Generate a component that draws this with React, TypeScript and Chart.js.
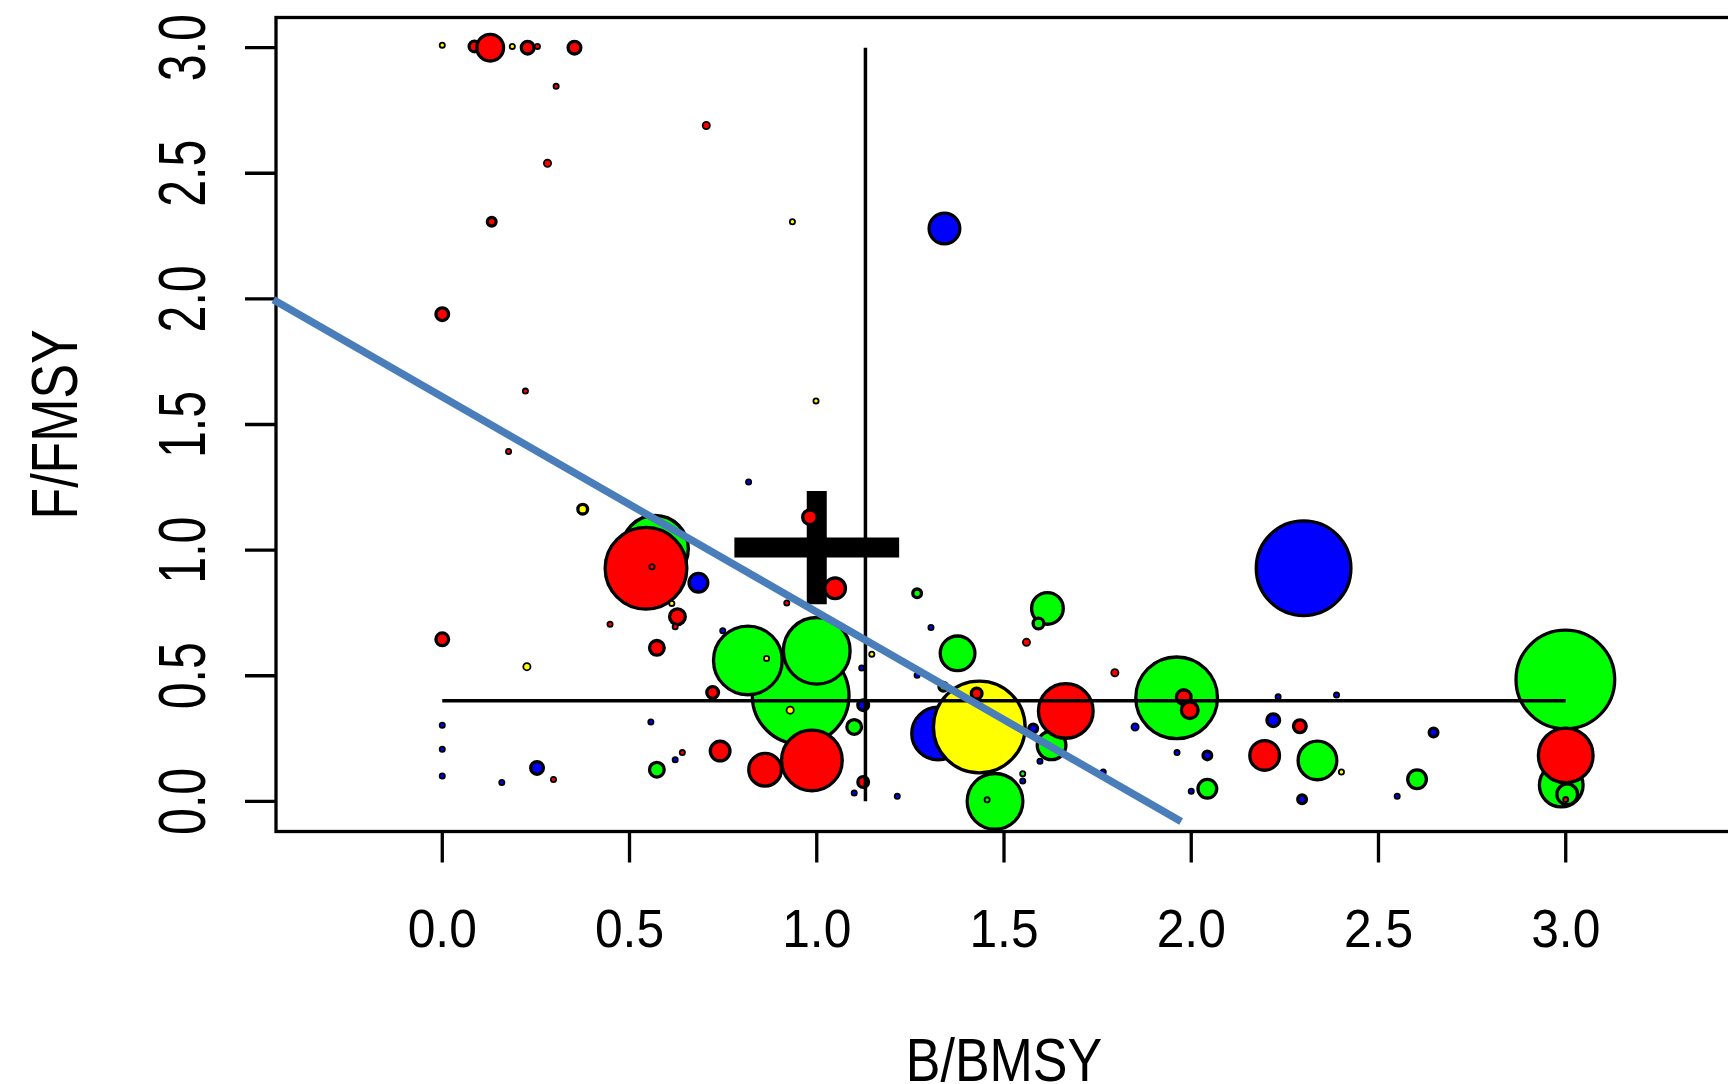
import React, { useEffect, useRef } from 'react';
import { Chart, registerables } from 'chart.js';

Chart.register(...registerables);

// ---- data (draw order) ----
const bmsy = [
  0.0, 0.086, 0.128, 0.187, 0.228, 0.254, 0.353, 0.304, 0.705, 0.281,
  0.132, 0.935, 1.341, 0.0, 0.222, 0.998, 0.177, 0.818, 0.375, 0.982,
  0.568, 0.544, 0.56, 0.684, 0.613, 0.628, 0.622, 0.448, 0.0, 0.573,
  0.226, 0.92, 0.749, 0.957, 0.816, 1.0, 0.866, 0.929, 0.722, 0.557,
  0.0, 0.0, 0.0, 0.253, 0.297, 0.159, 0.573, 0.641, 0.622, 0.742,
  0.862, 0.987, 1.1, 1.124, 1.124, 1.1, 1.215, 1.268, 1.305, 1.147,
  1.12, 1.049, 1.268, 1.616, 1.592, 1.56, 1.376, 1.796, 1.324, 1.434,
  1.427, 1.338, 1.627, 1.665, 1.578, 1.476, 1.455, 1.55, 1.55, 1.765,
  1.596, 1.961, 1.98, 1.996, 1.85, 1.962, 2.043, 2.043, 2.0, 2.232,
  2.388, 2.219, 2.29, 2.196, 2.337, 2.401, 2.296, 2.647, 2.603, 2.55,
  2.3, 2.999, 2.988, 3.004, 3.0, 3.0,
];
const fmsy = [
  3.01, 3.005, 3.0, 3.005, 3.0, 3.005, 3.0, 2.846, 2.69, 2.54,
  2.307, 2.307, 2.28, 1.939, 1.633, 1.594, 1.393, 1.271, 1.163, 1.131,
  1.005, 0.928, 0.934, 0.87, 0.788, 0.735, 0.695, 0.705, 0.645, 0.611,
  0.536, 0.79, 0.679, 0.42, 0.561, 0.599, 0.569, 0.363, 0.433, 0.316,
  0.303, 0.207, 0.101, 0.133, 0.087, 0.075, 0.126, 0.194, 0.166, 0.2,
  0.126, 0.163, 0.296, 0.383, 0.077, 0.033, 0.02, 0.828, 0.692, 0.586,
  0.531, 0.848, 0.502, 0.768, 0.708, 0.633, 0.589, 0.512, 0.27, 0.296,
  0.429, 0.456, 0.223, 0.36, 0.29, 0.0, 0.006, 0.11, 0.081, 0.117,
  0.16, 0.412, 0.415, 0.363, 0.296, 0.194, 0.183, 0.05, 0.04, 0.416,
  0.423, 0.323, 0.299, 0.183, 0.163, 0.117, 0.008, 0.274, 0.088, 0.02,
  0.928, 0.485, 0.065, 0.028, 0.007, 0.183,
];
const stockSize = [
  0.35, 0.7, 1.5, 0.35, 0.8, 0.35, 0.8, 0.35, 0.45, 0.45,
  0.6, 0.35, 1.7, 0.8, 0.35, 0.35, 0.35, 0.35, 0.65, 0.9,
  3.5, 4.25, 0.35, 1.1, 0.35, 0.95, 0.35, 0.35, 0.8, 0.9,
  0.45, 0.35, 0.35, 5.0, 3.6, 3.5, 0.35, 0.45, 0.75, 0.35,
  0.35, 0.35, 0.35, 0.8, 0.35, 0.35, 0.9, 0.35, 0.35, 1.15,
  1.8, 3.2, 0.9, 0.7, 0.7, 0.35, 0.35, 0.6, 0.35, 0.35,
  0.35, 1.2, 0.35, 1.75, 0.7, 0.45, 1.9, 0.45, 2.8, 4.75,
  0.7, 0.6, 1.6, 2.9, 0.6, 2.95, 0.35, 0.35, 0.35, 0.35,
  0.35, 4.25, 0.9, 1.0, 0.45, 0.35, 0.6, 1.1, 0.35, 0.35,
  0.35, 0.8, 0.8, 1.65, 2.1, 0.35, 0.6, 0.6, 1.1, 0.35,
  4.9, 5.1, 2.35, 1.2, 0.35, 2.9,
];
const status = [
  'Y', 'R', 'R', 'Y', 'R', 'R', 'R', 'R', 'R', 'R',
  'R', 'Y', 'B', 'R', 'R', 'Y', 'R', 'B', 'Y', 'R',
  'G', 'R', 'R', 'B', 'Y', 'R', 'R', 'R', 'R', 'R',
  'Y', 'R', 'B', 'G', 'G', 'G', 'Y', 'Y', 'R', 'B',
  'B', 'B', 'B', 'B', 'R', 'B', 'G', 'R', 'B', 'R',
  'R', 'R', 'G', 'B', 'R', 'B', 'B', 'G', 'B', 'Y',
  'B', 'R', 'B', 'G', 'G', 'R', 'G', 'R', 'B', 'Y',
  'R', 'G', 'G', 'R', 'B', 'G', 'G', 'G', 'B', 'B',
  'B', 'G', 'R', 'R', 'B', 'B', 'B', 'G', 'B', 'B',
  'B', 'B', 'R', 'R', 'G', 'Y', 'B', 'B', 'G', 'B',
  'B', 'G', 'G', 'G', 'R', 'R',
];

const xTickValues = [0, 0.5, 1, 1.5, 2, 2.5, 3];
const xTickLabels = ['0.0', '0.5', '1.0', '1.5', '2.0', '2.5', '3.0'];
const yTickValues = [0, 0.5, 1, 1.5, 2, 2.5, 3];
const yTickLabels = ['0.0', '0.5', '1.0', '1.5', '2.0', '2.5', '3.0'];

const xTitle = 'B/BMSY';
const yTitle = 'F/FMSY';

// reference lines
const refLineB = [1.13, 1.13];
const refLineBF = [0, 3];
const refLineF = [0.4, 0.4];
const refLineFB = [0, 3];

// reference point with error cross
const crossB = [1.0];
const crossF = [1.01];
const crossErrB = [0.22];
const crossErrF = [0.225];

// trend line
const trendB = [-0.451, 1.973];
const trendF = [1.997, -0.08];

// ---- styles ----
const COLORS: Record<string, string> = { R: '#FF0000', G: '#00FF00', B: '#0000FF', Y: '#FFFF00' };
const RADIUS_PX = 10;
const FONT = '"Liberation Sans", Arial, Helvetica, sans-serif';

const borderFor = (s: number) => (s < 0.5 ? 1.8 : 3.3);

const axesPlugin = {
  id: 'rStyleAxes',
  beforeDatasetsDraw(chart: any) {
    const { ctx, chartArea: a, scales } = chart;
    const xs = scales.x;
    const ys = scales.y;
    ctx.save();
    ctx.strokeStyle = '#000';
    ctx.lineWidth = 3.3;
    ctx.lineCap = 'butt';
    ctx.strokeRect(a.left, a.top, a.right - a.left, a.bottom - a.top);
    ctx.beginPath();
    xTickValues.forEach((v) => {
      const px = xs.getPixelForValue(v);
      ctx.moveTo(px, a.bottom);
      ctx.lineTo(px, a.bottom + 31);
    });
    yTickValues.forEach((v) => {
      const py = ys.getPixelForValue(v);
      ctx.moveTo(a.left, py);
      ctx.lineTo(a.left - 31, py);
    });
    ctx.stroke();

    ctx.fillStyle = '#000';
    ctx.textAlign = 'center';
    ctx.textBaseline = 'alphabetic';

    ctx.font = `53.5px ${FONT}`;
    xTickLabels.forEach((t, i) => {
      const px = xs.getPixelForValue(xTickValues[i]);
      ctx.save();
      ctx.translate(px, a.bottom + 115.5);
      ctx.scale(0.93, 1);
      ctx.fillText(t, 0, 0);
      ctx.restore();
    });

    ctx.font = `67px ${FONT}`;
    yTickLabels.forEach((t, i) => {
      const py = ys.getPixelForValue(yTickValues[i]);
      ctx.save();
      ctx.translate(a.left - 71, py);
      ctx.rotate(-Math.PI / 2);
      ctx.scale(0.72, 1);
      ctx.fillText(t, 0, 0);
      ctx.restore();
    });

    ctx.font = `61.5px ${FONT}`;
    ctx.save();
    ctx.translate((a.left + a.right) / 2, a.bottom + 249.5);
    ctx.scale(0.845, 1);
    ctx.fillText(xTitle, 0, 0);
    ctx.restore();

    ctx.font = `64px ${FONT}`;
    ctx.save();
    ctx.translate(a.left - 199, (a.top + a.bottom) / 2);
    ctx.rotate(-Math.PI / 2);
    ctx.scale(0.81, 1);
    ctx.fillText(yTitle, 0, 0);
    ctx.restore();

    ctx.restore();
  },
};

export default function App() {
  const canvasRef = useRef<HTMLCanvasElement | null>(null);

  useEffect(() => {
    const canvas = canvasRef.current;
    if (!canvas) return;

    const bubbles = bmsy.map((b, i) => ({
      x: b,
      y: fmsy[i],
      r: Math.max(0.5, stockSize[i] * RADIUS_PX - borderFor(stockSize[i]) / 2),
    }));

    const lineDs = (data: { x: number; y: number }[], color: string, width: number, order: number, clip: any = false) => ({
      type: 'line' as const,
      data,
      borderColor: color,
      backgroundColor: color,
      borderWidth: width,
      borderCapStyle: 'butt' as const,
      pointRadius: 0,
      fill: false,
      tension: 0,
      showLine: true,
      order,
      clip,
    });

    const chart = new Chart(canvas, {
      type: 'bubble',
      data: {
        datasets: [
          lineDs(trendB.map((b, i) => ({ x: b, y: trendF[i] })), '#4A7EBB', 7.5, 0, false) as any,
          lineDs(refLineB.map((b, i) => ({ x: b, y: refLineBF[i] })), '#000000', 3.5, 1) as any,
          lineDs(refLineFB.map((b, i) => ({ x: b, y: refLineF[i] })), '#000000', 3.5, 1) as any,
          {
            type: 'bubble',
            data: bubbles,
            backgroundColor: (c: any) => COLORS[status[c.dataIndex]] || '#000',
            borderColor: '#000000',
            borderWidth: (c: any) => borderFor(stockSize[c.dataIndex] ?? 1),
            order: 2,
            clip: false,
          } as any,
          lineDs(
            [
              { x: crossB[0] - crossErrB[0], y: crossF[0] },
              { x: crossB[0] + crossErrB[0], y: crossF[0] },
            ],
            '#000000', 20, 3
          ) as any,
          lineDs(
            [
              { x: crossB[0], y: crossF[0] - crossErrF[0] },
              { x: crossB[0], y: crossF[0] + crossErrF[0] },
            ],
            '#000000', 20, 3
          ) as any,
        ],
      },
      options: {
        animation: false,
        responsive: false,
        maintainAspectRatio: false,
        devicePixelRatio: 1,
        events: [],
        layout: { autoPadding: false, padding: { left: 276, top: 17.5, right: 8, bottom: 252.5 } },
        plugins: { legend: { display: false }, tooltip: { enabled: false } },
        scales: {
          x: { type: 'linear', min: -0.444, max: 3.444, display: false },
          y: { type: 'linear', min: -0.12, max: 3.12, display: false },
        },
      },
      plugins: [axesPlugin],
    } as any);

    return () => chart.destroy();
  }, []);

  return (
    <div style={{ position: 'absolute', left: 0, top: 0, width: 1728, height: 1084, overflow: 'hidden', background: '#fff' }}>
      <canvas ref={canvasRef} width={1740} height={1084} style={{ display: 'block', width: 1740, height: 1084 }} />
    </div>
  );
}
